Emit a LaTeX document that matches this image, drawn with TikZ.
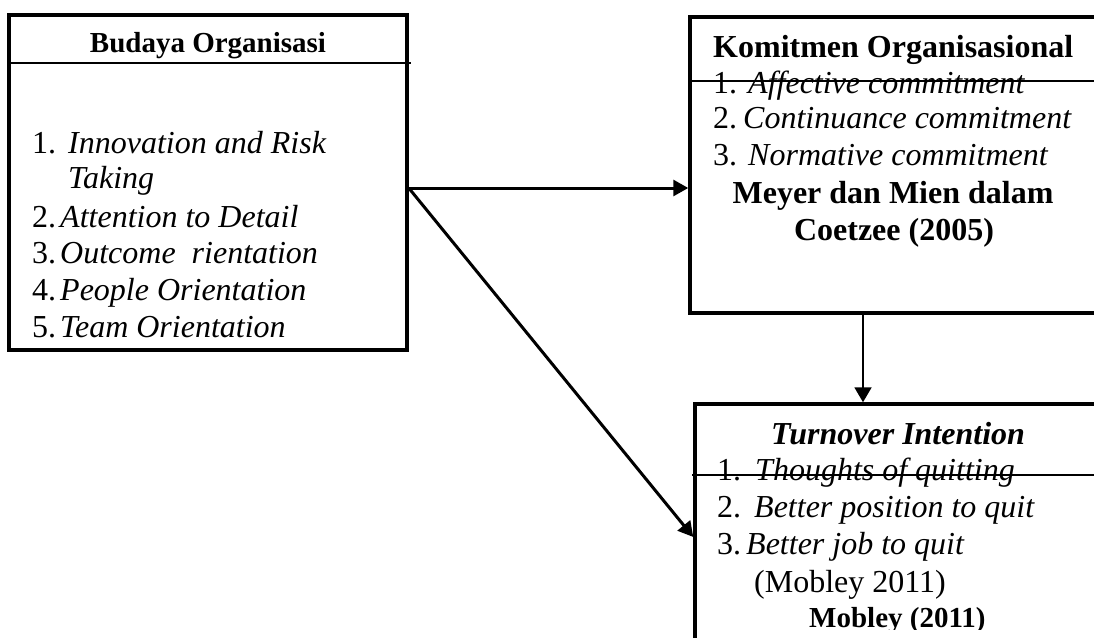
\documentclass[tikz,border=0pt]{standalone}
\usepackage{fontspec}
\setmainfont{Liberation Serif}
\usetikzlibrary{arrows.meta}
\newcommand\bodysize{\fontsize{32}{38}\selectfont}
\newcommand\headsize{\fontsize{29}{35}\selectfont}
\begin{document}
\begin{tikzpicture}[x=1pt,y=-1pt,
  box/.style={draw,line width=3.5pt,inner sep=0pt},
  rule/.style={line width=1.5pt},
  link/.style={line width=3pt,-{Triangle[length=15pt,width=16pt]}},
  drop/.style={line width=2pt,-{Triangle[length=15pt,width=17pt]}},
  lbl/.style={anchor=base west,inner sep=0pt,font=\bodysize},
  item/.style={anchor=base west,inner sep=0pt,font=\bodysize\itshape},
  head/.style={anchor=base,inner sep=0pt,font=\bodysize\bfseries},
]
\clip (0,0) rectangle (1094,637);

% the three boxes (the right-hand ones run past the page edge)
\node[box,minimum width=398pt,minimum height=335pt] (lbox) at (208,182.5) {};
\node[box,minimum width=420pt,minimum height=296pt] (kbox) at (900,165) {};
\node[box,minimum width=415pt,minimum height=256pt] (tbox) at (902.5,532) {};

% header rules
\draw[rule] (9,63) -- (411,63);
\draw[rule] (690,81) -- (1100,81);
\draw[rule] (692,475) -- (1100,475);

% Budaya Organisasi
\node[head,font=\headsize\bfseries] (bh) at (208,52) {Budaya Organisasi};
\node[lbl] (bn1) at (32,153) {1.};
\node[item] (bi1) at (68,153) {Innovation and Risk};
\node[item] (bi1b) at (68,188) {Taking};
\node[lbl] (bn2) at (32,227) {2.};
\node[item] (bi2) at (60,227) {Attention to Detail};
\node[lbl] (bn3) at (32,263) {3.};
\node[item] (bi3) at (60,263) {Outcome\ \ rientation};
\node[lbl] (bn4) at (32,300) {4.};
\node[item] (bi4) at (60,300) {People Orientation};
\node[lbl] (bn5) at (32,337) {5.};
\node[item] (bi5) at (60,337) {Team Orientation};

% Komitmen Organisasional
\node[lbl,font=\bodysize\bfseries] (kh) at (713,57) {Komitmen Organisasional};
\node[lbl] (kn1) at (713,93) {1.};
\node[item] (ki1) at (748,93) {Affective commitment};
\node[lbl] (kn2) at (713,128) {2.};
\node[item] (ki2) at (743,128) {Continuance commitment};
\node[lbl] (kn3) at (713,165) {3.};
\node[item] (ki3) at (748,165) {Normative commitment};
\node[head] (ks1) at (893,203) {Meyer dan Mien dalam};
\node[head] (ks2) at (894,240) {Coetzee (2005)};

% Turnover Intention
\node[head,font=\bodysize\bfseries\itshape] (th) at (898,444) {Turnover Intention};
\node[lbl] (tn1) at (717,480) {1.};
\node[item] (ti1) at (755,480) {Thoughts of quitting};
\node[lbl] (tn2) at (717,517) {2.};
\node[item] (ti2) at (754,517) {Better position to quit};
\node[lbl] (tn3) at (717,554) {3.};
\node[item] (ti3) at (746,554) {Better job to quit};
\node[lbl] (tc1) at (754,592) {(Mobley 2011)};
\begin{scope}
  \clip (700,590) rectangle (1094,629);
  \node[lbl,font=\headsize\bfseries] (tc2) at (809,627) {Mobley (2011)};
\end{scope}

% connectors
\coordinate (fork) at (lbox.east |- 0,188);
\draw[link] (fork) -- (fork -| kbox.west);
\draw[link] (fork) -- ([yshift=-5pt]tbox.west);
\draw[drop] ([xshift=-37pt]kbox.south) -- ([xshift=-37pt]kbox.south |- tbox.north);
\end{tikzpicture}
\end{document}
